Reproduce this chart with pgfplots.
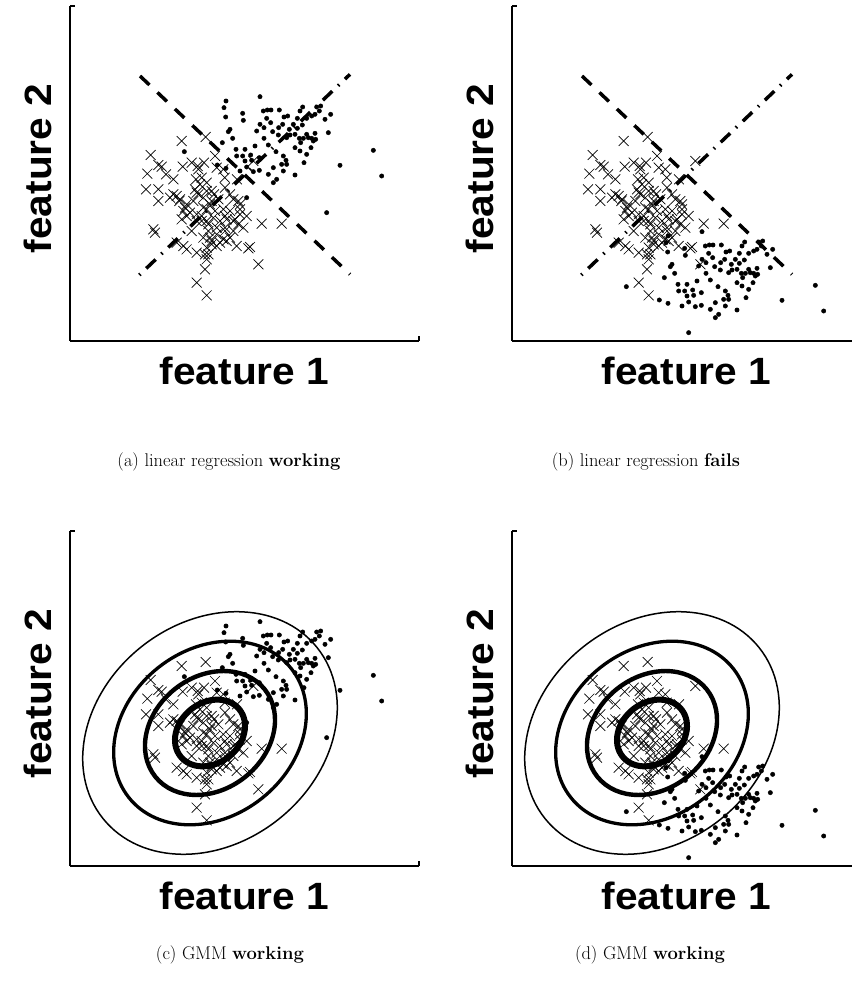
\documentclass[border=0pt]{standalone}
\usepackage{fontspec}
\usepackage{graphicx}
\usepackage{pgfplots}
\pgfplotsset{compat=1.18}
\usepackage{pgfplotstable}
\newfontfamily\labelfont{Liberation Sans}

\pgfplotstableread{
x y
365 -420
437 -408
272 -462
295 -492
305 -497
262 -518
318 -520
340 -535
368 -497
395 -485
413 -495
432 -485
465 -465
470 -500
490 -505
408 -535
440 -545
258 -565
295 -565
295 -600
330 -590
350 -585
358 -600
380 -610
410 -575
430 -590
455 -570
462 -580
495 -560
520 -595
535 -600
475 -595
370 -630
380 -645
410 -640
440 -625
465 -630
490 -625
510 -630
540 -625
560 -645
410 -660
425 -660
445 -670
480 -660
520 -660
550 -680
605 -668
665 -668
280 -685
285 -695
445 -690
470 -700
495 -690
430 -710
455 -720
480 -725
500 -720
350 -725
380 -745
410 -755
440 -740
445 -760
470 -735
530 -735
565 -742
570 -738
440 -775
595 -790
435 -805
410 -845
440 -883
500 -655
455 -600
400 -600
520 -690
395 -690
460 -650
430 -620
340 -580
360 -595
580 -480
494 -530
531 -535
415 -505
425 -530
420 -550
405 -565
415 -580
440 -570
510 -580
540 -610
375 -620
390 -635
365 -655
425 -645
440 -660
450 -610
495 -645
525 -655
540 -640
470 -680
495 -680
535 -670
450 -710
490 -715
510 -710
455 -730
370 -735
435 -760
}\crosses

\pgfplotstableread{
x y
498 -300
600 -287
492 -320
497 -348
548 -337
550 -358
610 -330
622 -327
633 -327
658 -327
620 -352
672 -348
683 -345
720 -330
728 -318
770 -318
782 -315
778 -330
765 -340
795 -355
812 -340
712 -352
740 -352
755 -345
600 -370
612 -380
632 -365
656 -380
668 -370
688 -385
700 -370
712 -382
727 -372
740 -400
755 -412
765 -397
767 -415
805 -395
510 -385
505 -392
518 -412
590 -390
612 -412
638 -392
655 -402
680 -410
690 -402
705 -400
718 -412
722 -425
730 -412
745 -410
760 -420
705 -440
720 -450
740 -460
753 -440
487 -425
373 -452
528 -445
555 -445
585 -435
625 -432
648 -452
670 -465
678 -478
530 -465
548 -465
555 -480
572 -462
575 -478
598 -470
560 -498
580 -512
598 -508
625 -520
640 -500
665 -490
680 -490
670 -510
705 -522
650 -535
640 -545
732 -485
472 -492
498 -502
940 -448
965 -525
840 -493
800 -635
540 -510
560 -590
}\dotsA

\pgfplotstableread{
x y
498 -705
600 -692
492 -725
497 -753
548 -742
550 -763
610 -735
622 -732
633 -732
658 -732
620 -757
672 -753
683 -750
720 -735
728 -723
770 -723
782 -720
778 -735
765 -745
795 -760
812 -745
712 -757
740 -757
755 -750
600 -775
612 -785
632 -770
656 -785
668 -775
688 -790
700 -775
712 -787
727 -777
740 -805
755 -817
765 -802
767 -820
805 -800
510 -790
505 -797
518 -817
590 -795
612 -817
638 -797
655 -807
680 -815
690 -807
705 -805
718 -817
722 -830
730 -817
745 -815
760 -825
705 -845
720 -855
740 -865
753 -845
487 -830
373 -857
528 -850
555 -850
585 -840
625 -837
648 -857
670 -870
678 -883
530 -870
548 -870
555 -885
572 -867
575 -883
598 -875
560 -903
580 -917
598 -913
625 -925
640 -905
665 -895
680 -895
670 -915
705 -927
650 -940
640 -950
732 -890
472 -897
498 -907
940 -853
965 -930
840 -898
540 -915
560 -995
}\dotsB

\pgfplotstableread{
x y
240 -225
870 -820
}\dashedline

\pgfplotstableread{
x y
238 -822
870 -220
}\dashdotline

\pgfplotsset{
  panel/.style={
    anchor=south west, scale only axis, width=349pt, height=335pt,
    xmin=30, xmax=1077, ymin=-1020, ymax=-15,
    axis x line=bottom, axis y line=left,
    axis line style={-, line width=1.6pt, black},
    every outer x axis line/.append style={-},
    every outer y axis line/.append style={-},
    every inner x axis line/.append style={-},
    every inner y axis line/.append style={-},
    xtick={1077}, ytick={-15}, xticklabels={}, yticklabels={},
    tick align=inside, major tick length=5pt,
    every tick/.style={black, line width=1.6pt},
    xlabel={\labelfont\bfseries\fontsize{38}{38}\selectfont\scalebox{1.07}[1]{feature 1}},
    ylabel={\labelfont\bfseries\fontsize{38}{38}\selectfont\scalebox{1.07}[1]{feature 2}},
    xlabel style={at={(axis description cs:0.5,0)}, anchor=north, inner sep=0pt, yshift=-16pt},
    ylabel style={at={(axis description cs:0,0.5)}, anchor=south, inner sep=0pt, yshift=18pt, xshift=5pt},
  },
  crossplot/.style={only marks, mark=x, mark size=7pt, mark options={line width=0.7pt, black}, black},
  dotplot/.style={only marks, mark=*, mark size=2.2pt, black},
  dashedsty/.style={no marks, black, line width=3.5pt, dash pattern=on 13pt off 11pt},
  dashdotsty/.style={no marks, black, line width=3.5pt, dash pattern=on 1.5pt off 8pt on 13pt off 8pt},
}
\tikzset{ell/.style={rotate around={38.5:(axis cs:450,-621)}}}

\begin{document}
\begin{tikzpicture}[x=1pt,y=1pt]
\useasboundingbox (0pt,0pt) rectangle (852pt,997pt);

% (a)
\begin{axis}[panel, at={(70pt,656pt)}]
\addplot[crossplot] table {\crosses};
\addplot[dotplot] table {\dotsA};
\addplot[dashedsty] table {\dashedline};
\addplot[dashdotsty] table {\dashdotline};
\end{axis}

% (b)
\begin{axis}[panel, at={(512pt,656pt)}]
\addplot[crossplot] table {\crosses};
\addplot[dotplot] table {\dotsB};
\addplot[dashedsty] table {\dashedline};
\addplot[dashdotsty] table {\dashdotline};
\end{axis}

% (c)
\begin{axis}[panel, at={(70pt,131pt)}]
\addplot[crossplot] table {\crosses};
\addplot[dotplot] table {\dotsA};
\draw[line width=1.5pt, ell] (axis cs:450,-621) ellipse [x radius=137pt, y radius=110.2pt];
\draw[line width=3.3pt, ell] (axis cs:450,-621) ellipse [x radius=103.7pt, y radius=83.4pt];
\draw[line width=4.4pt, ell] (axis cs:450,-621) ellipse [x radius=70pt, y radius=56.3pt];
\draw[line width=6pt, ell] (axis cs:450,-621) ellipse [x radius=37.7pt, y radius=30.3pt];
\end{axis}

% (d)
\begin{axis}[panel, at={(512pt,131pt)}]
\addplot[crossplot] table {\crosses};
\addplot[dotplot] table {\dotsB};
\draw[line width=1.5pt, ell] (axis cs:450,-621) ellipse [x radius=137pt, y radius=110.2pt];
\draw[line width=3.3pt, ell] (axis cs:450,-621) ellipse [x radius=103.7pt, y radius=83.4pt];
\draw[line width=4.4pt, ell] (axis cs:450,-621) ellipse [x radius=70pt, y radius=56.3pt];
\draw[line width=6pt, ell] (axis cs:450,-621) ellipse [x radius=37.7pt, y radius=30.3pt];
\end{axis}

\node[font=\fontsize{18.4}{22}\selectfont, anchor=base] at (229pt,530pt) {(a) linear regression \textbf{working}};
\node[font=\fontsize{18.4}{22}\selectfont, anchor=base] at (646pt,530pt) {(b) linear regression \textbf{fails}};
\node[font=\fontsize{18.4}{22}\selectfont, anchor=base] at (230pt,37pt) {(c) GMM \textbf{working}};
\node[font=\fontsize{18.4}{22}\selectfont, anchor=base] at (650pt,37pt) {(d) GMM \textbf{working}};
\end{tikzpicture}
\end{document}
